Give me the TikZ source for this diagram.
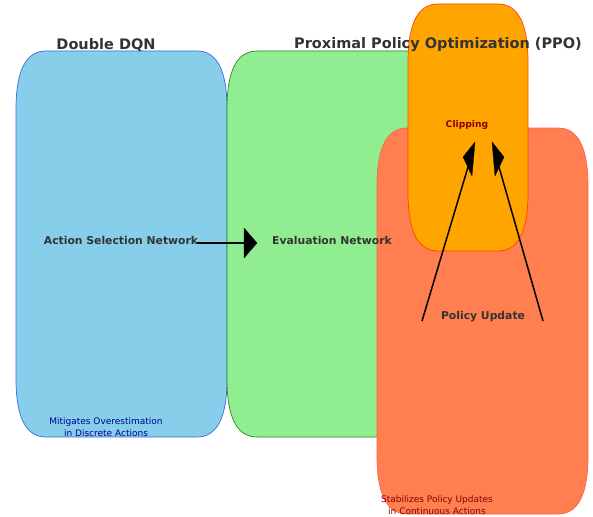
\documentclass[tikz,border=0pt]{standalone}
\usepackage{fontspec}
\setmainfont{DejaVu Sans}
\usetikzlibrary{arrows.meta}
\definecolor{txtgray}{HTML}{333333}
\definecolor{bluefill}{HTML}{87CEEB}
\definecolor{blueedge}{HTML}{4169E1}
\definecolor{greenfill}{HTML}{90EE90}
\definecolor{greenedge}{HTML}{228B22}
\definecolor{coralfill}{HTML}{FF7F50}
\definecolor{coraledge}{HTML}{FF6347}
\definecolor{orangefill}{HTML}{FFA500}
\definecolor{orangeedge}{HTML}{FF4500}
\definecolor{dkblue}{HTML}{00008B}
\definecolor{dkred}{HTML}{8B0000}
% rounded box with quadratic-bezier corners: x1,y1,x2,y2 (pixels, y down)
\newcommand{\rbox}[5]{%
  \pgfmathsetmacro{\rxa}{#1+30}\pgfmathsetmacro{\rxb}{#3-30}%
  \pgfmathsetmacro{\rya}{#2+58}\pgfmathsetmacro{\ryb}{#4-58}%
  \pgfmathsetmacro{\cxa}{#1+30/3}\pgfmathsetmacro{\cxb}{#3-30/3}%
  \pgfmathsetmacro{\cya}{#2+58/3}\pgfmathsetmacro{\cyb}{#4-58/3}%
  \path[#5] (\rxa,#2) -- (\rxb,#2) .. controls (\cxb,#2) and (#3,\cya) .. (#3,\rya)
    -- (#3,\ryb) .. controls (#3,\cyb) and (\cxb,#4) .. (\rxb,#4)
    -- (\rxa,#4) .. controls (\cxa,#4) and (#1,\cyb) .. (#1,\ryb)
    -- (#1,\rya) .. controls (#1,\cya) and (\cxa,#2) .. (\rxa,#2) -- cycle;}
\tikzset{
  title/.style={text=txtgray,font=\fontsize{14.5}{16}\selectfont\bfseries,inner sep=0pt},
  lbl/.style={text=txtgray,font=\fontsize{10.8}{12}\selectfont\bfseries,inner sep=0pt},
  note/.style={font=\fontsize{9}{11.8}\selectfont,align=center,inner sep=0pt},
  shaft/.style={line width=1.5pt,black},
  head/.style={fill=black,draw=black,line width=0.3pt}
}
\begin{document}
\begin{tikzpicture}[x=1pt,y=-1pt]
\useasboundingbox (0,0) rectangle (593,516);
\rbox{16}{51}{227}{437}{fill=bluefill,draw=blueedge,line width=0.7pt}
\rbox{227}{51}{438}{437}{fill=greenfill,draw=greenedge,line width=0.7pt}
\rbox{377}{128}{588}{514}{fill=coralfill,draw=coraledge,line width=0.7pt}
\rbox{408}{4}{528}{251}{fill=orangefill,draw=orangeedge,line width=0.7pt}

\node[title] (t1) at (106,45) {Double DQN};
\node[title] (t2) at (438,45) {Proximal Policy Optimization (PPO)};
\node[lbl] (asn) at (121,240) {Action Selection Network};
\node[lbl] (evn) at (332,240) {Evaluation Network};
\node[lbl,text=dkred,font=\fontsize{9.2}{10}\selectfont\bfseries] (clip) at (467,125) {Clipping};
\node[lbl] (pu) at (483,317) {Policy Update};
\node[note,text=dkblue] (n1) at (106,427) {Mitigates Overestimation\\in Discrete Actions};
\node[note,text=dkred] (n2) at (437,505) {Stabilizes Policy Updates\\in Continuous Actions};

% horizontal arrow
\coordinate (a1s) at (197,243);
\coordinate (a1b) at (245,243);
\coordinate (a1t) at (257,243);
\draw[line width=2pt] (a1s) -- (a1b);
\path[head] (a1t) -- (244,228) -- (244,258) -- cycle;

% clipping arrows
\coordinate (l1s) at (422,321);
\coordinate (l1b) at (468,167);
\coordinate (l1t) at (475,142);
\draw[shaft] (l1s) -- (l1b);
\path[head] (l1t) -- (463,157) -- (472,176) -- cycle;
\coordinate (r1s) at (543,321);
\coordinate (r1b) at (499,167);
\coordinate (r1t) at (492,142);
\draw[shaft] (r1s) -- (r1b);
\path[head] (r1t) -- (504,157) -- (495,176) -- cycle;
\end{tikzpicture}
\end{document}
